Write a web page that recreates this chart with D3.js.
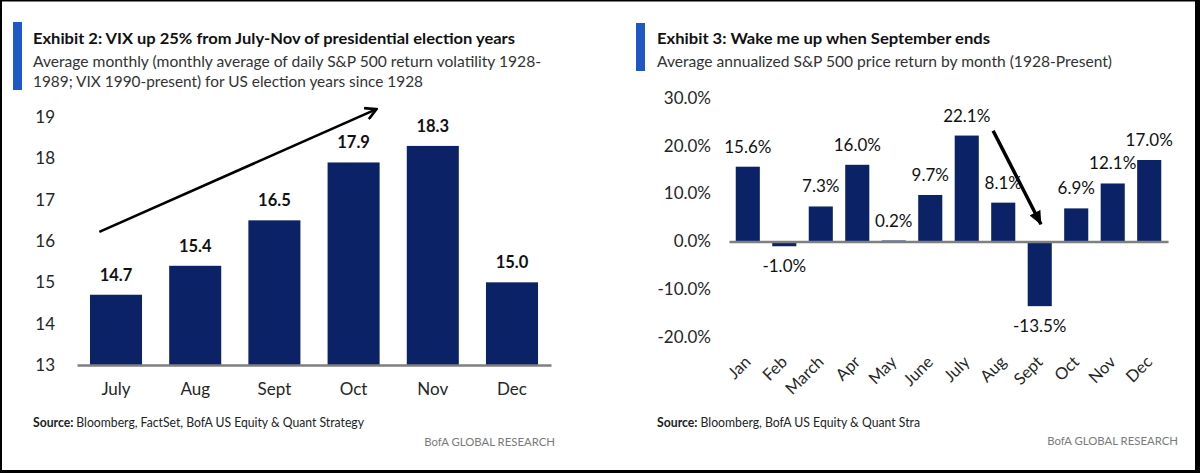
<!DOCTYPE html>
<html><head><meta charset="utf-8">
<script src="https://cdn.jsdelivr.net/npm/d3@7"></script>
<style>
html,body{margin:0;padding:0;background:#fff;}
svg{display:block;font-family:Lato,"Open Sans","DejaVu Sans",sans-serif;}
</style></head>
<body><svg id="c" width="1200" height="473"></svg>
<script>
// ---------- data ----------
const vixMonths = ['July','Aug','Sept','Oct','Nov','Dec'];
const vixValues = [14.7, 15.4, 16.5, 17.9, 18.3, 15.0];
const vixTicks = [13, 14, 15, 16, 17, 18, 19];
const vixTitle = 'Exhibit 2: VIX up 25% from July-Nov of presidential election years';
const vixSubtitle = ['Average monthly (monthly average of daily S&P 500 return volatility 1928-',
                     '1989; VIX 1990-present) for US election years since 1928'];
const vixSource = 'Bloomberg, FactSet, BofA US Equity & Quant Strategy';
// arrow annotation (category, fraction across band, value)
const vixArrow = [['July', 0.18, 16.22], ['Oct', 0.94, 19.19]];

const retMonths = ['Jan','Feb','March','Apr','May','June','July','Aug','Sept','Oct','Nov','Dec'];
const retValues = [15.6, -1.0, 7.3, 16.0, 0.2, 9.7, 22.1, 8.1, -13.5, 6.9, 12.1, 17.0];
const retTicks = [-20, -10, 0, 10, 20, 30];
const retTitle = 'Exhibit 3: Wake me up when September ends';
const retSubtitle = ['Average annualized S&P 500 price return by month (1928-Present)'];
const retSource = 'Bloomberg, BofA US Equity & Quant Stra';
const retArrow = [['Aug', 0.08, 23.1], ['Sept', 0.55, 3.6]];

const brand = 'BofA GLOBAL RESEARCH';

// ---------- style ----------
const NAVY = '#0b2266', BLUE = '#1f57c7', AXIS = '#7f7f7f', TXT = '#262626';
const svg = d3.select('#c');

// frame
svg.append('rect').attr('x',0).attr('y',0).attr('width',1200).attr('height',473).attr('fill','#fff');
svg.append('rect').attr('x',0).attr('y',0).attr('width',1200).attr('height',1.5).attr('fill','#000');
svg.append('rect').attr('x',0).attr('y',0).attr('width',2).attr('height',473).attr('fill','#000');
svg.append('rect').attr('x',1195).attr('y',0).attr('width',5).attr('height',473).attr('fill','#000');
svg.append('rect').attr('x',0).attr('y',470).attr('width',1200).attr('height',3).attr('fill','#000');

const defs = svg.append('defs');
defs.append('marker').attr('id','chev').attr('viewBox','0 0 14 14').attr('refX',12).attr('refY',7)
  .attr('markerWidth',14).attr('markerHeight',14).attr('markerUnits','userSpaceOnUse').attr('orient','auto')
  .append('path').attr('d','M1,1 L12,7 L1,13').attr('fill','none').attr('stroke','#000').attr('stroke-width',2.6);
defs.append('marker').attr('id','tri').attr('viewBox','0 0 14 12').attr('refX',13).attr('refY',6)
  .attr('markerWidth',14).attr('markerHeight',12).attr('markerUnits','userSpaceOnUse').attr('orient','auto')
  .append('path').attr('d','M0,0 L14,6 L0,12 Z').attr('fill','#000');

function header(g, o){
  g.append('rect').attr('x',o.bx).attr('y',o.by).attr('width',9).attr('height',o.bh).attr('fill',BLUE);
  g.append('text').attr('x',o.tx).attr('y',43.5).attr('font-size',16).attr('font-weight',700)
    .attr('fill','#111').attr('textLength',o.tw).attr('lengthAdjust','spacingAndGlyphs').text(o.title);
  o.sub.forEach((s,i)=>{
    g.append('text').attr('x',o.tx).attr('y',67+i*20).attr('font-size',16).attr('fill','#333')
      .attr('textLength',o.sw[i]).attr('lengthAdjust','spacingAndGlyphs').text(s);
  });
  const src = g.append('text').attr('x',o.tx).attr('y',426.5).attr('font-size',13).attr('fill','#222')
    .attr('textLength',o.srcw).attr('lengthAdjust','spacingAndGlyphs');
  src.append('tspan').attr('font-weight',700).text('Source: ');
  src.append('tspan').text(o.source);
  const b = g.append('text').attr('x',o.brx).attr('y',o.bry).attr('text-anchor','end').attr('font-size',13)
    .attr('fill','#7a7a7a').text(brand);
  const w = b.node().getComputedTextLength();
  if (w > 0) b.attr('font-size', 13 * 131 / w);
}

// ---------- Exhibit 2 ----------
{
  const g = svg.append('g');
  header(g,{bx:13,by:22,bh:68,tx:33,tw:482,title:vixTitle,sub:vixSubtitle,sw:[508,390],
            srcw:331,source:vixSource,brx:555,bry:446});
  const x = d3.scaleBand().domain(vixMonths).range([77,551]).paddingInner(0.343).paddingOuter(0.164);
  const y = d3.scaleLinear().domain([13,19]).range([365,117]);

  const ya = g.append('g').attr('transform','translate(55,0)')
    .call(d3.axisLeft(y).tickValues(vixTicks).tickSize(0).tickPadding(0).tickFormat(d3.format('d')));
  ya.select('.domain').remove();
  ya.selectAll('text').attr('font-family','Lato,"Open Sans",sans-serif').attr('font-size',17).attr('fill',TXT);

  g.selectAll('rect.bar').data(vixValues).join('rect').attr('class','bar')
    .attr('x',(d,i)=>x(vixMonths[i])).attr('width',x.bandwidth())
    .attr('y',d=>y(d)).attr('height',d=>y(13)-y(d)).attr('fill',NAVY);

  const xa = g.append('g').attr('transform',`translate(0,${y(13)})`)
    .call(d3.axisBottom(x).tickSize(0).tickPadding(18));
  xa.select('.domain').attr('stroke',AXIS).attr('stroke-width',2.5);
  xa.selectAll('text').attr('font-family','Lato,"Open Sans",sans-serif').attr('font-size',17).attr('fill',TXT);

  g.selectAll('text.val').data(vixValues).join('text').attr('class','val')
    .attr('x',(d,i)=>x(vixMonths[i])+x.bandwidth()/2).attr('y',d=>y(d)-14)
    .attr('text-anchor','middle').attr('font-size',16.5).attr('font-weight',700).attr('fill','#111')
    .text(d=>d.toFixed(1));

  const pt = a => [x(a[0])+a[1]*x.bandwidth(), y(a[2])];
  g.append('path').attr('d',d3.line()(vixArrow.map(pt))).attr('stroke','#000').attr('stroke-width',2.6)
    .attr('fill','none').attr('marker-end','url(#chev)');
}

// ---------- Exhibit 3 ----------
{
  const g = svg.append('g');
  header(g,{bx:636,by:23,bh:48,tx:657,tw:333,title:retTitle,sub:retSubtitle,sw:[455],
            srcw:263,source:retSource,brx:1178,bry:444.5});
  const x = d3.scaleBand().domain(retMonths).range([729,1168]).paddingInner(0.34).paddingOuter(0.185);
  const y = d3.scaleLinear().domain([-20,30]).range([337.3,97.7]);
  const pct = v => v.toFixed(1) + '%';

  const ya = g.append('g').attr('transform','translate(711,0)')
    .call(d3.axisLeft(y).tickValues(retTicks).tickSize(0).tickPadding(0).tickFormat(pct));
  ya.select('.domain').remove();
  ya.selectAll('text').attr('font-family','Lato,"Open Sans",sans-serif').attr('font-size',17).attr('fill',TXT);

  g.selectAll('rect.bar').data(retValues).join('rect').attr('class','bar')
    .attr('x',(d,i)=>x(retMonths[i])).attr('width',x.bandwidth())
    .attr('y',d=>y(Math.max(0,d))).attr('height',d=>Math.abs(y(d)-y(0))).attr('fill',NAVY);

  const xa = g.append('g').attr('transform',`translate(0,${y(0)})`)
    .call(d3.axisBottom(x).tickSize(0).tickPadding(0));
  xa.select('.domain').attr('stroke',AXIS).attr('stroke-width',2.5);
  xa.selectAll('.tick text')
    .attr('font-family','Lato,"Open Sans",sans-serif').attr('font-size',16.5).attr('fill',TXT)
    .attr('text-anchor','end').attr('dy',0)
    .attr('transform',`translate(4,${363 - y(0)}) rotate(-45)`);

  g.selectAll('text.val').data(retValues).join('text').attr('class','val')
    .attr('x',(d,i)=>x(retMonths[i])+x.bandwidth()/2)
    .attr('y',d=> d>=0 ? y(d)-14 : y(d)+26)
    .attr('text-anchor','middle').attr('font-size',17).attr('fill','#111')
    .text(pct);

  const pt = a => [x(a[0])+a[1]*x.bandwidth(), y(a[2])];
  g.append('path').attr('d',d3.line()(retArrow.map(pt))).attr('stroke','#000').attr('stroke-width',3.5)
    .attr('fill','none').attr('marker-end','url(#tri)');
}
</script></body></html>
